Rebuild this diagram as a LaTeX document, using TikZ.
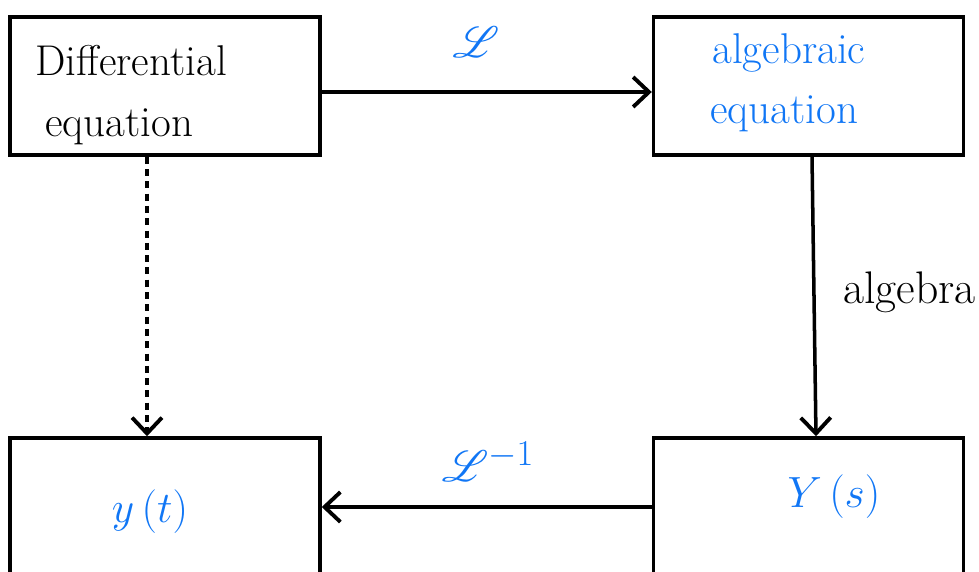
\documentclass[tikz,border=0pt]{standalone}
\usepackage{mathrsfs}
\usetikzlibrary{arrows.meta}
\definecolor{inkblue}{RGB}{16,118,245}
\begin{document}
\begin{tikzpicture}[x=0.02cm,y=-0.02cm,
  box/.style={draw, line width=2pt, minimum width=6.2cm, minimum height=2.76cm, inner sep=0pt},
  conn/.style={line width=2pt, -{Straight Barb[length=9pt,width=17pt,line width=2.2pt]}},
  txt/.style={inner sep=0pt, font=\fontsize{24.5}{28}\selectfont},
  big/.style={inner sep=0pt, font=\fontsize{30}{34}\selectfont, text=inkblue}
]
\useasboundingbox (0,0) rectangle (979,571);
\clip (0,0) rectangle (979,571);
% boxes
\node[box] (tl) at (165,86) {};
\node[box] (tr) at (808.5,86) {};
\node[box] (bl) at (165,507) {};
\node[box] (br) at (808.5,507) {};
% box texts
\node[txt, anchor=base west] (d1) at (35,75) {Differential};
\node[txt, anchor=base west] (d2) at (45,136) {equation};
\node[txt, anchor=base west, text=inkblue] (a1) at (712,64) {algebraic};
\node[txt, anchor=base west, text=inkblue] (a2) at (710,123) {equation};
\node[big] (yt) at (150,512) {$y\,(t)$};
\node[big] (ys) at (834,497) {$Y\,(s)$};
% connectors
\draw[conn] ([yshift=-0.12cm]tl.east) -- ([yshift=-0.12cm]tr.west);
\draw[conn] ([xshift=0.07cm]tr.south) -- ([xshift=0.15cm]br.north);
\draw[conn] (br.west) -- (bl.east);
\draw[conn, dashed, dash pattern=on 4pt off 3pt] ([xshift=-0.36cm]tl.south) -- ([xshift=-0.36cm]bl.north);
% labels
\node[big, font=\fontsize{30}{34}\selectfont] (L) at (476,42) {$\mathscr{L}$};
\node[big, font=\fontsize{30}{34}\selectfont] (Li) at (488,462) {$\mathscr{L}^{-1}$};
\node[txt, font=\fontsize{26}{30}\selectfont, anchor=base west] (alg) at (843,303) {algebra};
\end{tikzpicture}
\end{document}
